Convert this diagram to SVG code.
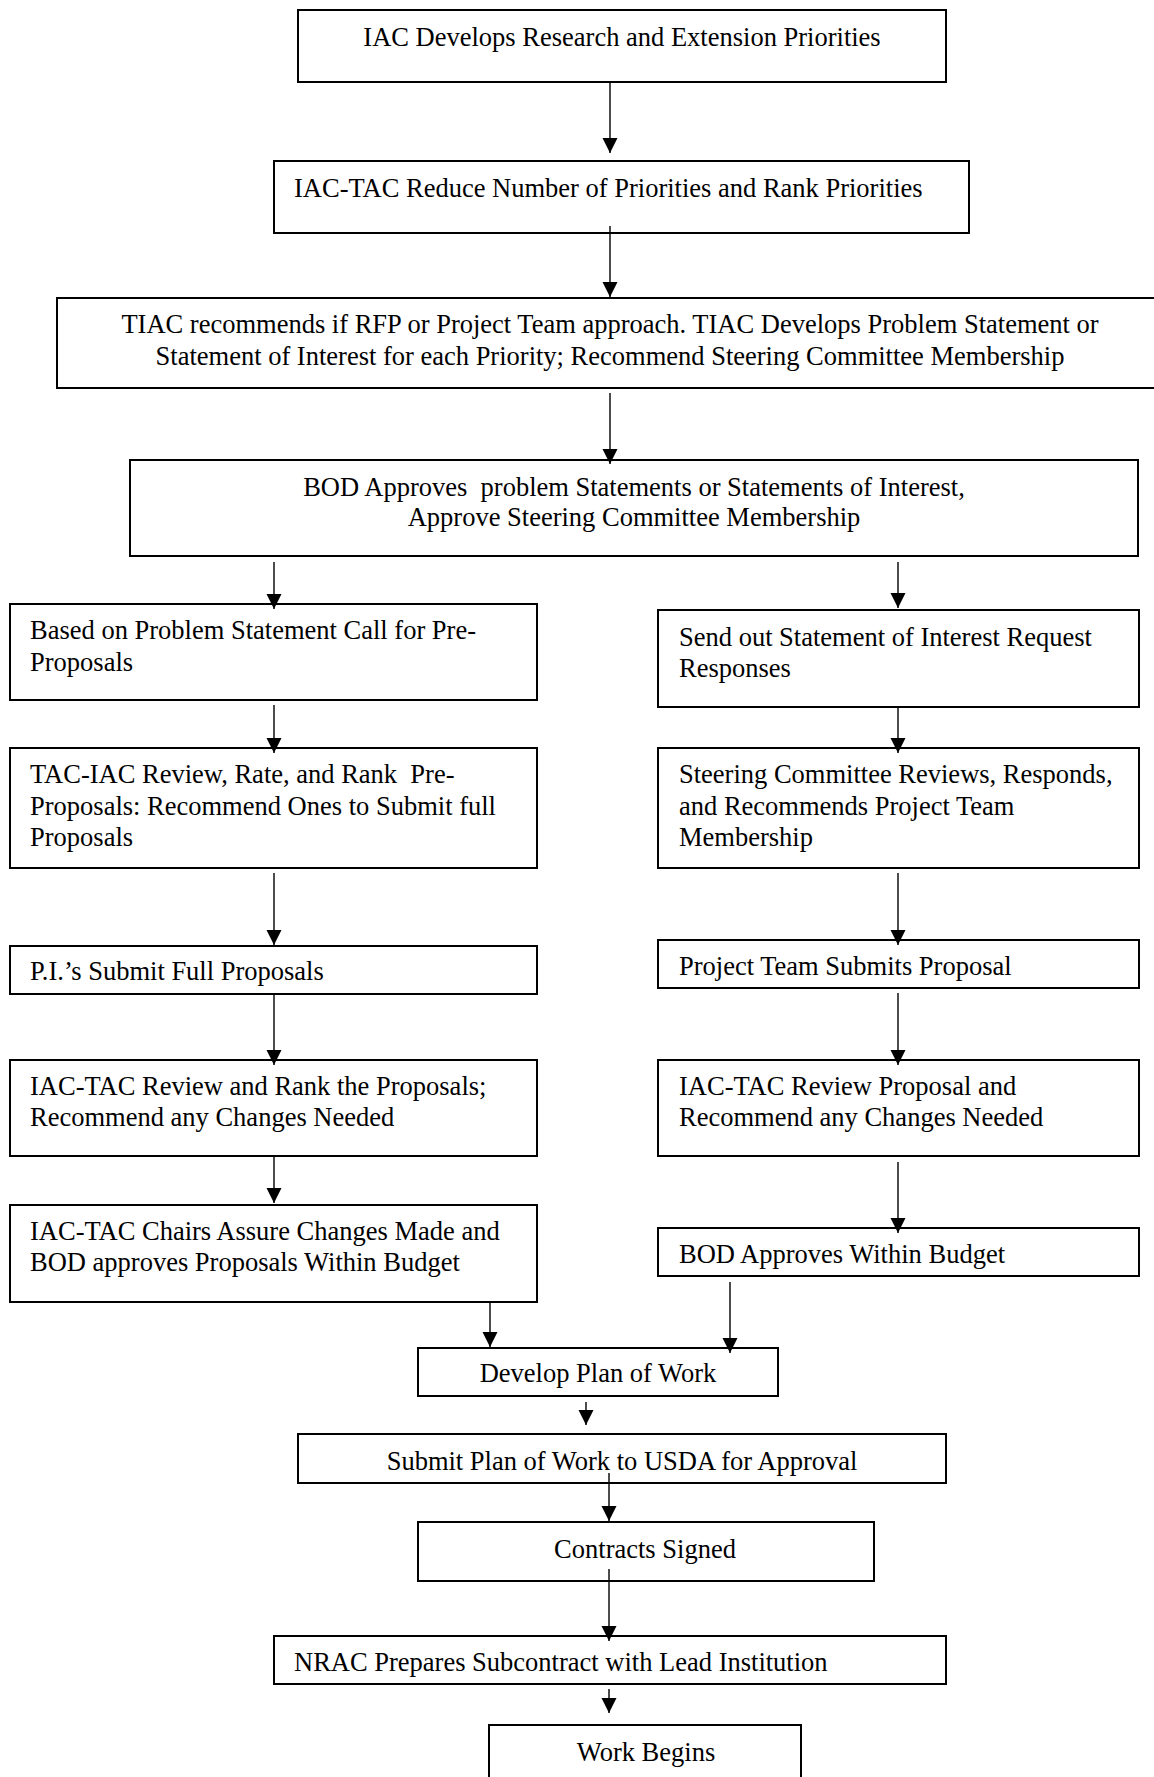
<svg xmlns="http://www.w3.org/2000/svg" width="1154" height="1777" viewBox="0 0 1154 1777">
<style>
.box{fill:#fff;stroke:#000;stroke-width:2}
.t{font-family:"Liberation Serif","Times New Roman",serif;font-size:26.5px;fill:#000}
.c{text-anchor:middle}
.conn line{stroke:#000;stroke-width:1.4;marker-end:url(#ah)}
</style>
<defs>
<marker id="ah" markerUnits="userSpaceOnUse" markerWidth="15" markerHeight="16" refX="15" refY="7.5" orient="auto" viewBox="0 0 15 15">
<path d="M0,0 L15,7.5 L0,15 z" fill="#000"/>
</marker>
</defs>
<rect width="1154" height="1777" fill="#fff"/>
<g id="n1"><rect class="box" x="298" y="10" width="648" height="72"/><text class="t c" x="622" y="46">IAC Develops Research and Extension Priorities</text></g>
<g id="n2"><rect class="box" x="274" y="161" width="695" height="72"/><text class="t" x="294" y="197">IAC-TAC Reduce Number of Priorities and Rank Priorities</text></g>
<g id="n3"><rect class="box" x="57" y="298" width="1110" height="90"/><text class="t c" x="610" y="333">TIAC recommends if RFP or Project Team approach. TIAC Develops Problem Statement or</text><text class="t c" x="610" y="365">Statement of Interest for each Priority; Recommend Steering Committee Membership</text></g>
<g id="n4"><rect class="box" x="130" y="460" width="1008" height="96"/><text class="t c" x="634" y="496" xml:space="preserve">BOD Approves  problem Statements or Statements of Interest,</text><text class="t c" x="634" y="526">Approve Steering Committee Membership</text></g>
<g id="l1"><rect class="box" x="10" y="604" width="527" height="96"/><text class="t" x="30" y="639">Based on Problem Statement Call for Pre-</text><text class="t" x="30" y="671">Proposals</text></g>
<g id="r1"><rect class="box" x="658" y="610" width="481" height="97"/><text class="t" x="679" y="645.5">Send out Statement of Interest Request</text><text class="t" x="679" y="677">Responses</text></g>
<g id="l2"><rect class="box" x="10" y="748" width="527" height="120"/><text class="t" x="30" y="783" xml:space="preserve">TAC-IAC Review, Rate, and Rank  Pre-</text><text class="t" x="30" y="815">Proposals: Recommend Ones to Submit full</text><text class="t" x="30" y="846">Proposals</text></g>
<g id="r2"><rect class="box" x="658" y="748" width="481" height="120"/><text class="t" x="679" y="783">Steering Committee Reviews, Responds,</text><text class="t" x="679" y="815">and Recommends Project Team</text><text class="t" x="679" y="846">Membership</text></g>
<g id="l3"><rect class="box" x="10" y="946" width="527" height="48"/><text class="t" x="30" y="980">P.I.’s Submit Full Proposals</text></g>
<g id="r3"><rect class="box" x="658" y="940" width="481" height="48"/><text class="t" x="679" y="975">Project Team Submits Proposal</text></g>
<g id="l4"><rect class="box" x="10" y="1060" width="527" height="96"/><text class="t" x="30" y="1095">IAC-TAC Review and Rank the Proposals;</text><text class="t" x="30" y="1126">Recommend any Changes Needed</text></g>
<g id="r4"><rect class="box" x="658" y="1060" width="481" height="96"/><text class="t" x="679" y="1095">IAC-TAC Review Proposal and</text><text class="t" x="679" y="1126">Recommend any Changes Needed</text></g>
<g id="l5"><rect class="box" x="10" y="1205" width="527" height="97"/><text class="t" x="30" y="1240">IAC-TAC Chairs Assure Changes Made and</text><text class="t" x="30" y="1271">BOD approves Proposals Within Budget</text></g>
<g id="r5"><rect class="box" x="658" y="1228" width="481" height="48"/><text class="t" x="679" y="1263">BOD Approves Within Budget</text></g>
<g id="d"><rect class="box" x="418" y="1348" width="360" height="48"/><text class="t c" x="598" y="1382">Develop Plan of Work</text></g>
<g id="s"><rect class="box" x="298" y="1434" width="648" height="49"/><text class="t c" x="622" y="1470">Submit Plan of Work to USDA for Approval</text></g>
<g id="c"><rect class="box" x="418" y="1522" width="456" height="59"/><text class="t c" x="645" y="1558">Contracts Signed</text></g>
<g id="nr"><rect class="box" x="274" y="1636" width="672" height="48"/><text class="t" x="294" y="1671">NRAC Prepares Subcontract with Lead Institution</text></g>
<g id="w"><rect class="box" x="489" y="1725" width="312" height="70"/><text class="t c" x="646" y="1761">Work Begins</text></g>
<g id="connectors" class="conn">
<line x1="610" y1="82" x2="610" y2="153"/>
<line x1="610" y1="226" x2="610" y2="297"/>
<line x1="610" y1="393" x2="610" y2="464"/>
<line x1="274" y1="562" x2="274" y2="609"/>
<line x1="898" y1="562" x2="898" y2="608"/>
<line x1="274" y1="705" x2="274" y2="753"/>
<line x1="898" y1="706" x2="898" y2="753"/>
<line x1="274" y1="873" x2="274" y2="945"/>
<line x1="898" y1="873" x2="898" y2="945"/>
<line x1="274" y1="994" x2="274" y2="1065"/>
<line x1="898" y1="993" x2="898" y2="1065"/>
<line x1="274" y1="1156" x2="274" y2="1203"/>
<line x1="898" y1="1162" x2="898" y2="1233"/>
<line x1="490" y1="1302" x2="490" y2="1347"/>
<line x1="730" y1="1282" x2="730" y2="1353"/>
<line x1="586" y1="1402" x2="586" y2="1425"/>
<line x1="609" y1="1473" x2="609" y2="1521"/>
<line x1="609" y1="1569" x2="609" y2="1641"/>
<line x1="609" y1="1689" x2="609" y2="1713"/>
</g>
</svg>
